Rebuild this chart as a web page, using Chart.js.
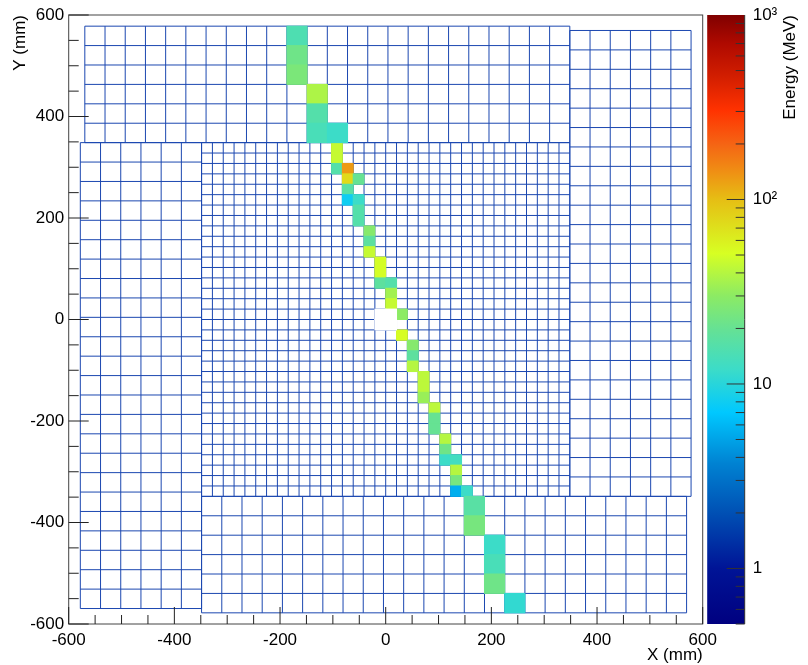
<!DOCTYPE html>
<html>
<head>
<meta charset="utf-8">
<script src="https://cdn.jsdelivr.net/npm/chart.js@4.4.1/dist/chart.umd.min.js"></script>
<style>
  html, body { margin: 0; padding: 0; background: #fff; }
  #wrap { width: 808px; height: 665px; }
</style>
</head>
<body>
<div id="wrap"><canvas id="calo" width="808" height="665"></canvas></div>
<script>
// calorimeter modules (mm): [x0, y0, columns, rows, cell size]
const blocks = [
    [-348.5, -348.5, 34, 34, 20.5],   // inner fine cells
    [-569.5, 348.5, 24, 6, 38.25],    // top
    [348.5, -348.5, 6, 24, 38.25],    // right
    [-348.5, -578, 24, 6, 38.25],     // bottom
    [-578, -569.5, 6, 24, 38.25]      // left
];

// hits: [column, row, energy MeV], counted from the lower left corner of the block
const innerHits = [
    [12, 33, 45], [12, 32, 45], [12, 31, 16], [13, 31, 130], [13, 30, 75], [14, 30, 20],
    [13, 29, 17], [13, 28, 8], [14, 28, 12], [14, 27, 16], [14, 26, 16],
    [15, 25, 28], [15, 24, 18], [15, 23, 45], [16, 22, 50], [16, 21, 50], [16, 20, 18],
    [17, 20, 16], [17, 19, 35], [17, 18, 45], [18, 17, 30], [18, 15, 52],
    [19, 14, 28], [19, 13, 18], [19, 12, 40], [20, 11, 42], [20, 10, 42], [20, 9, 33],
    [21, 8, 42], [21, 7, 20], [21, 6, 20], [22, 5, 40], [22, 4, 22], [22, 3, 12],
    [23, 3, 13], [23, 2, 40], [23, 1, 24], [23, 0, 5.5], [24, 0, 12],
    // below threshold, painted white
    [16, 17, 0.3], [17, 17, 0.3], [16, 16, 0.3], [17, 16, 0.3]
];
const topHits = [
    [10, 5, 15], [10, 4, 22], [10, 3, 25], [11, 2, 38], [11, 1, 16], [11, 0, 14], [12, 0, 12]
];
const bottomHits = [
    [13, 5, 17], [13, 4, 24], [14, 3, 12], [14, 2, 14], [14, 1, 22], [15, 0, 11]
];
const hitSets = [[0, innerHits], [1, topHits], [3, bottomHits]];

const xTickValues = [-600, -400, -200, 0, 200, 400, 600];
const yTickValues = [-600, -400, -200, 0, 200, 400, 600];
const zTickValues = [1, 10, 100, 1000];
const zTickLabels = { 1: '1', 10: '10', 100: '10²', 1000: '10³' };
const zMin = 0.5, zMax = 1000;

// colour palette: [energy, rgb]
const paletteStops = [
    [0.5, [0, 0, 128]], [1, [0, 20, 150]], [2, [0, 80, 180]], [3.7, [0, 130, 210]],
    [7, [0, 200, 255]], [12, [60, 220, 200]], [19.5, [100, 225, 150]], [30, [140, 235, 100]],
    [51, [215, 255, 35]], [100, [230, 190, 20]], [145, [240, 140, 20]], [200, [245, 100, 20]],
    [305, [255, 50, 0]], [465, [210, 30, 0]], [700, [175, 10, 0]], [1000, [128, 0, 0]]
];

const font = { family: '"Liberation Sans", Arial, sans-serif', size: 17 };
const titleFont = { family: '"Liberation Sans", Arial, sans-serif', size: 17, lineHeight: 1.1 };
const fontCss = '17px "Liberation Sans", Arial, sans-serif';

function rgb(c) {
    return `rgb(${c.map(v => Math.round(v)).join(',')})`;
}

function energyColor(e) {
    if (e < zMin) return '#ffffff';
    const lv = Math.log10(Math.min(e, zMax));
    for (let k = 1; k < paletteStops.length; k++) {
        const [e0, c0] = paletteStops[k - 1];
        const [e1, c1] = paletteStops[k];
        if (e <= e1 || k === paletteStops.length - 1) {
            const f = (lv - Math.log10(e0)) / (Math.log10(e1) - Math.log10(e0));
            return rgb(c0.map((v, n) => v + (c1[n] - v) * f));
        }
    }
}

const caloPlugin = {
    id: 'calo',
    beforeDatasetsDraw(chart) {
        const { ctx, chartArea: a, scales: { x, y } } = chart;
        ctx.save();
        ctx.beginPath();
        ctx.rect(a.left, a.top, a.width, a.height);
        ctx.clip();

        // module outlines
        ctx.strokeStyle = '#1b47b0';
        ctx.lineWidth = 1;
        blocks.forEach(([x0, y0, nx, ny, s]) => {
            ctx.beginPath();
            const yb = y.getPixelForValue(y0), yt = y.getPixelForValue(y0 + ny * s);
            const xl = x.getPixelForValue(x0), xr = x.getPixelForValue(x0 + nx * s);
            for (let i = 0; i <= nx; i++) {
                const px = x.getPixelForValue(x0 + i * s);
                ctx.moveTo(px, yb);
                ctx.lineTo(px, yt);
            }
            for (let j = 0; j <= ny; j++) {
                const py = y.getPixelForValue(y0 + j * s);
                ctx.moveTo(xl, py);
                ctx.lineTo(xr, py);
            }
            ctx.stroke();
        });

        // energy deposits
        hitSets.forEach(([b, hits]) => {
            const [x0, y0, , , s] = blocks[b];
            hits.forEach(([c, r, e]) => {
                const l = x.getPixelForValue(x0 + c * s);
                const rr = x.getPixelForValue(x0 + (c + 1) * s);
                const t = y.getPixelForValue(y0 + (r + 1) * s);
                const bt = y.getPixelForValue(y0 + r * s);
                ctx.fillStyle = energyColor(e);
                ctx.fillRect(l - 0.5, t - 0.5, rr - l + 1, bt - t + 1);
            });
        });
        ctx.restore();
    },
    afterDraw(chart) {
        const { ctx, chartArea: a, scales: { x, y, z } } = chart;
        ctx.save();

        // frame and inward ticks
        ctx.strokeStyle = '#444';
        ctx.lineWidth = 1;
        ctx.strokeRect(a.left, a.top, a.width, a.height);
        ctx.strokeStyle = '#222';
        ctx.beginPath();
        for (let v = -600; v <= 600; v += 50) {
            const px = x.getPixelForValue(v);
            ctx.moveTo(px, a.bottom);
            ctx.lineTo(px, a.bottom - (v % 200 === 0 ? 17 : 9));
            const py = y.getPixelForValue(v);
            ctx.moveTo(a.left, py);
            ctx.lineTo(a.left + (v % 200 === 0 ? 20 : 10), py);
        }
        ctx.stroke();

        // colour bar
        const barL = a.right + 4.5, barR = a.right + 42;
        const top = z.getPixelForValue(zMax), bot = z.getPixelForValue(zMin);
        const grad = ctx.createLinearGradient(0, bot, 0, top);
        paletteStops.forEach(([e, c]) => {
            grad.addColorStop((z.getPixelForValue(e) - bot) / (top - bot), rgb(c));
        });
        ctx.fillStyle = grad;
        ctx.fillRect(barL, top, barR - barL, bot - top);

        ctx.strokeStyle = '#333';
        ctx.beginPath();
        ctx.moveTo(barR, top);
        ctx.lineTo(barR, bot);
        [0.1, 1, 10, 100].forEach(d => {
            for (let m = 1; m <= 9; m++) {
                const v = m * d;
                if (v < zMin || v > zMax) continue;
                const py = z.getPixelForValue(v);
                ctx.moveTo(barR, py);
                ctx.lineTo(barR - (m === 1 ? 18 : 9), py);
            }
        });
        ctx.stroke();

        // colour bar title
        ctx.fillStyle = '#000';
        ctx.font = fontCss;
        ctx.translate(790, top);
        ctx.rotate(-Math.PI / 2);
        ctx.textAlign = 'right';
        ctx.textBaseline = 'middle';
        ctx.fillText('Energy (MeV)', 0, 0);
        ctx.restore();
    }
};

new Chart(document.getElementById('calo'), {
    type: 'scatter',
    data: { datasets: [] },
    plugins: [caloPlugin],
    options: {
        responsive: false,
        animation: false,
        devicePixelRatio: 1,
        layout: { padding: { top: 15, left: 0, right: 0, bottom: 0 } },
        plugins: { legend: { display: false }, tooltip: { enabled: false } },
        scales: {
            x: {
                type: 'linear', min: -600, max: 600,
                grid: { display: false, drawTicks: false }, border: { display: false },
                afterBuildTicks: s => { s.ticks = xTickValues.map(v => ({ value: v })); },
                afterFit: s => { s.height = 41; },
                ticks: { font, color: '#000', padding: 6, maxRotation: 0, autoSkip: false },
                title: { display: true, text: 'X (mm)', align: 'end', font: titleFont, color: '#000', padding: { top: 0, bottom: 0 } }
            },
            y: {
                type: 'linear', min: -600, max: 600,
                grid: { display: false, drawTicks: false }, border: { display: false },
                afterBuildTicks: s => { s.ticks = yTickValues.map(v => ({ value: v })); },
                afterFit: s => { s.width = 68.7; s.paddingTop = 0; s.paddingBottom = 0; },
                ticks: { font, color: '#000', padding: 4.5, autoSkip: false },
                title: { display: true, text: 'Y (mm)', align: 'end', font, color: '#000', padding: { top: 10, bottom: 0 } }
            },
            z: {
                type: 'logarithmic', position: 'right', min: zMin, max: zMax,
                grid: { display: false, drawTicks: false }, border: { display: false },
                afterBuildTicks: s => { s.ticks = zTickValues.map(v => ({ value: v })); },
                afterFit: s => { s.width = 105.3; s.paddingTop = 0; s.paddingBottom = 0; },
                ticks: { font, color: '#000', padding: 50, autoSkip: false, callback: v => zTickLabels[v] }
            }
        }
    }
});
</script>
</body>
</html>
